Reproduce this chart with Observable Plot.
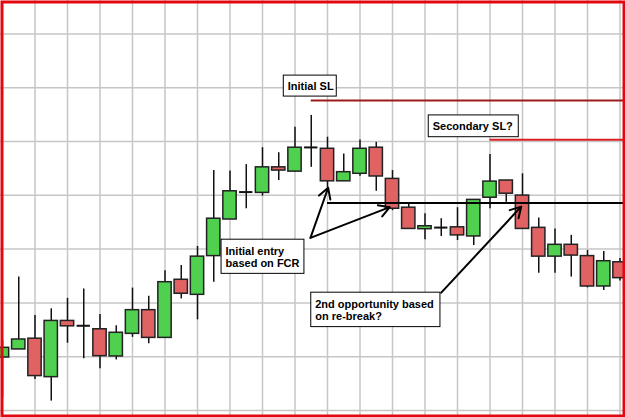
<!DOCTYPE html>
<html>
<head>
<meta charset="utf-8">
<script src="https://cdn.jsdelivr.net/npm/d3@7"></script>
<script src="https://cdn.jsdelivr.net/npm/@observablehq/plot@0.6"></script>
<style>
  html, body { margin: 0; padding: 0; background: #fff; }
  #chart svg { display: block; }
</style>
</head>
<body>
<div id="chart"></div>
<script>
// Candle data (index = bar position), arbitrary price units
const opens  = [119.7,122.7,126.7,112.4,133.3,131.5,130.2,120.1,128.5,137.3,127.0,148.6,143.0,157.4,171.0,181.2,180.9,190.4,188.8,197.8,197.3,185.2,188.0,197.7,186.1,175.4,167.4,168.0,168.1,164.7,179.1,185.5,179.9,167.9,157.2,161.6,157.4,146.1,155.1];
const closes = [123.3,126.4,112.8,133.3,131.3,131.5,120.2,128.9,137.3,127.0,147.7,143.4,157.2,171.3,181.5,181.2,190.4,189.2,197.7,197.8,185.2,188.6,197.3,187.0,175.0,167.5,168.5,168.0,165.1,178.3,185.1,180.6,167.5,157.2,161.6,157.6,146.1,155.5,149.2];
const highs  = [126.0,149.6,135.3,137.8,141.7,145.2,135.7,131.5,145.5,142.5,152.0,153.9,161.0,189.2,189.0,191.4,197.7,195.8,205.3,209.7,201.6,195.4,200.6,199.7,189.2,177.1,173.1,171.3,175.4,178.3,195.2,185.5,188.0,171.6,167.5,165.1,159.5,159.1,156.5];
const lows   = [104.8,122.7,111.5,103.5,125.0,119.2,115.5,118.8,127.2,124.8,127.0,141.5,133.7,147.7,171.0,175.0,179.7,185.5,188.8,190.4,182.8,185.2,187.1,181.5,174.3,167.3,163.5,164.7,163.2,161.3,175.0,177.4,167.5,151.0,151.0,149.6,145.6,144.6,148.1];

// Grid ticks
const gridBars   = [2,4,6,8,10,12,14,16,18,20,22,24,26,28,30,32,34,36,38];
const gridPrices = [100,120,140,160,180,200,220,240];

// Horizontal levels: [label, price, starting bar]
const levelNames  = ["Initial SL", "Secondary SL", "Re-break level"];
const levelPrices = [215.2, 200.7, 177.1];
const levelStarts = [19, 30, 20];

// Annotation boxes
const boxTexts  = ["Initial SL", "Secondary SL?", "Initial entry\nbased on FCR", "2nd opportunity based\non re-break?"];
const boxLeft   = [17.31, 26.23, 13.48, 19.0];
const boxRight  = [20.57, 31.77, 18.58, 26.95];
const boxTop    = [224.5, 209.7, 163.5, 143.8];
const boxBottom = [216.7, 201.6, 150.8, 131.0];

// Arrows: from (bar, price) to (bar, price)
const arrowFromBar   = [18.95, 18.95, 27.0];
const arrowFromPrice = [164.2, 164.2, 143.8];
const arrowToBar     = [20.04, 23.83, 31.92];
const arrowToPrice   = [182.8, 175.6, 175.8];

const candles = opens.map((o, i) => ({i, open: o, close: closes[i], high: highs[i], low: lows[i]}));
const bodies = candles.filter(d => d.open !== d.close);
const dojis = candles.filter(d => d.open === d.close);
const levels = levelNames.map((name, k) => ({name, price: levelPrices[k], start: levelStarts[k]}));
const boxes = boxTexts.map((text, k) => ({text, x1: boxLeft[k], x2: boxRight[k], y1: boxTop[k], y2: boxBottom[k]}));
const arrows = arrowFromBar.map((b, k) => ({x1: b, y1: arrowFromPrice[k], x2: arrowToBar[k], y2: arrowToPrice[k]}));

const W = 625, H = 417;
const xDomain = [-0.1231, 38.338];
const yDomain = [97.40, 252.42];
const halfW = 0.41;

const chart = Plot.plot({
  width: W,
  height: H,
  margin: 0,
  x: {domain: xDomain, axis: null},
  y: {domain: yDomain, axis: null},
  marks: [
    Plot.ruleX(gridBars, {x: d => d, stroke: "#c6c6c6", strokeWidth: 1.5}),
    Plot.ruleY(gridPrices, {y: d => d, stroke: "#c6c6c6", strokeWidth: 1.5}),
    Plot.ruleX(candles, {x: "i", y1: "low", y2: "high", stroke: "#111", strokeWidth: 1.5}),
    Plot.rect(bodies, {
      x1: d => d.i - halfW, x2: d => d.i + halfW,
      y1: "open", y2: "close",
      fill: d => d.close > d.open ? "#4fd04f" : "#e06262",
      stroke: "#222", strokeWidth: 1.5
    }),
    Plot.ruleY(dojis, {y: "open", x1: d => d.i - halfW, x2: d => d.i + halfW, stroke: "#111", strokeWidth: 2}),
    Plot.ruleY(levels, {
      y: "price", x1: "start", x2: () => xDomain[1] + 1,
      stroke: d => d.name === "Initial SL" ? "#9c1c1c" : d.name === "Secondary SL" ? "#d81e1e" : "#000",
      strokeWidth: 2
    }),
    Plot.arrow(arrows, {x1: "x1", y1: "y1", x2: "x2", y2: "y2", stroke: "#000", strokeWidth: 2, headLength: 9, bend: 0}),
    Plot.rect(boxes, {x1: "x1", x2: "x2", y1: "y1", y2: "y2", fill: "#fff", stroke: "#000", strokeWidth: 1}),
    Plot.text(boxes, {
      x: "x1", y: d => (d.y1 + d.y2) / 2, text: "text",
      textAnchor: "start", lineAnchor: "middle", dx: 4, lineHeight: 1.12,
      fontSize: 11, fontWeight: "bold", fontFamily: "Liberation Sans, Arial, sans-serif", fill: "#000"
    }),
    Plot.frame({stroke: "#e3080f", strokeWidth: 3, inset: 1.5})
  ]
});
document.getElementById("chart").appendChild(chart);
</script>
</body>
</html>
